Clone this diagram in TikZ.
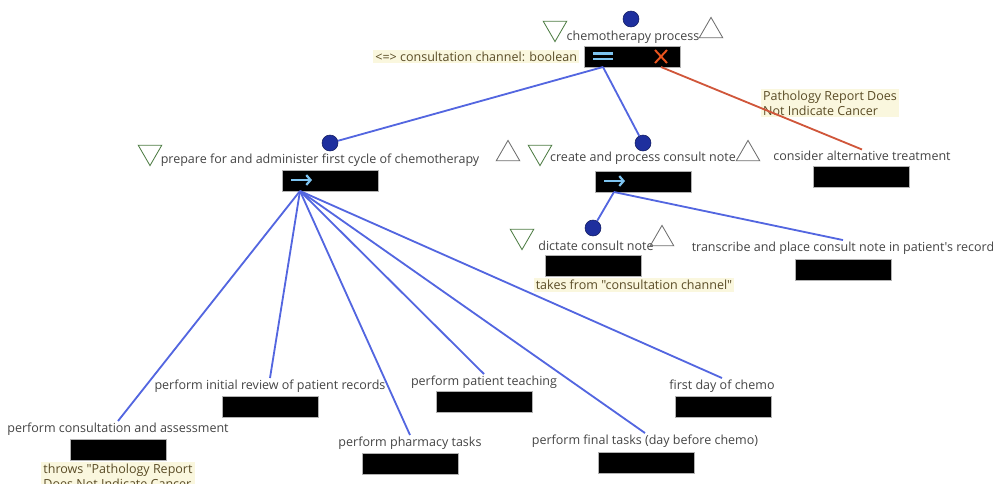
\documentclass[tikz,border=0pt]{standalone}
\usepackage{fontspec}
\setmainfont{Open Sans}[Ligatures=TeXOff]
\usepackage{xcolor}
\usetikzlibrary{arrows.meta,positioning,shapes.geometric}

\definecolor{txtgray}{HTML}{444444}
\definecolor{notetext}{HTML}{5A4C26}
\definecolor{notebg}{HTML}{FAF7DE}
\definecolor{lineblue}{HTML}{5366E0}
\definecolor{dotblue}{HTML}{1E2F9E}
\definecolor{excred}{HTML}{D0563A}
\definecolor{trigreen}{HTML}{4E7D44}
\definecolor{trigray}{HTML}{6E6E6E}
\definecolor{glyphblue}{HTML}{7EC4F0}
\definecolor{xorange}{HTML}{E8541E}

\begin{document}
\begin{tikzpicture}[
    x=0.025cm, y=-0.025cm,
    act/.style={font=\fontsize{8.9}{10.5}\selectfont, text=txtgray, inner sep=1pt},
    bar/.style={
        rectangle, fill=black, draw=gray!60,
        minimum width=2.4cm, minimum height=0.525cm, inner sep=0pt,
    },
    tok/.style={circle, fill=dotblue, draw=dotblue!60!black, minimum size=0.4cm, inner sep=0pt},
    tridown/.style={
        regular polygon, regular polygon sides=3, shape border rotate=180,
        draw=trigreen, line width=0.6pt, minimum size=0.68cm, inner sep=0pt,
    },
    triup/.style={
        regular polygon, regular polygon sides=3,
        draw=trigray, line width=0.6pt, minimum size=0.68cm, inner sep=0pt,
    },
    note/.style={
        font=\fontsize{8.9}{10.5}\selectfont, text=notetext, fill=notebg,
        inner sep=1.5pt, align=left,
    },
    link/.style={draw=lineblue, line width=1.3pt},
    exc/.style={draw=excred, line width=1.3pt},
    glyph/.style={draw=glyphblue, line width=1.6pt},
]

\useasboundingbox (0,0) rectangle (993,483);
\clip (0,0) rectangle (993,483);

% Root process
\node[tok] (rootdot) at (631,19) {};
\node[act] (root) at (633,37) {chemotherapy process};
\node[tridown] (rootdn) at (555,28) {};
\node[triup] (rootup) at (711,31) {};
\node[bar] (rootbar) at (632.5,56.5) {};
\node[note, left=0.12cm of rootbar] (chan) {<=> consultation channel: boolean};
\draw[glyph] (593,53.5) -- (613,53.5) (593,59) -- (613,59);
\draw[draw=xorange, line width=1.4pt] (655,50) -- (667,63) (667,50) -- (655,63);
\coordinate (rootseq) at (603,67);
\coordinate (rootexc) at (661,67);

% Prepare and administer
\node[tok] (prepdot) at (330,143) {};
\node[act] (prep) at (320,160) {prepare for and administer first cycle of chemotherapy};
\node[tridown] (prepdn) at (150,152) {};
\node[triup] (prepup) at (508,154) {};
\node[bar] (prepbar) at (330,180.5) {};
\draw[glyph, -{Straight Barb[length=3pt,width=7pt]}] (291,180) -- (312,180);
\coordinate (prepout) at (300,191);

% Consult note
\node[tok] (notedot) at (643,143) {};
\node[act] (cnote) at (643,158) {create and process consult note};
\node[tridown] (notedn) at (540,152) {};
\node[triup] (noteup) at (748,154) {};
\node[bar] (notebar) at (643,182) {};
\draw[glyph, -{Straight Barb[length=3pt,width=7pt]}] (604,181) -- (625,181);
\coordinate (noteout) at (614,192);

% Alternative treatment
\node[act] (alt) at (862,156) {consider alternative treatment};
\node[bar] (altbar) at (861,176.5) {};
\node[note] (patho) at (830,103) {Pathology Report Does\\Not Indicate Cancer};

% Dictate / transcribe
\node[tok] (dictdot) at (593,228) {};
\node[act] (dict) at (596,246) {dictate consult note};
\node[tridown] (dictdn) at (522,236) {};
\node[triup] (dictup) at (662,239) {};
\node[bar] (dictbar) at (593,265.5) {};
\node[note] (takes) at (634,285) {takes from "consultation channel"};
\node[act] (trans) at (843,248) {transcribe and place consult note in patient's record};
\node[bar] (transbar) at (843,269.5) {};

% Steps of the first cycle
\node[act] (review) at (270,386) {perform initial review of patient records};
\node[bar] (reviewbar) at (270,407) {};
\node[act] (consult) at (118,429) {perform consultation and assessment};
\node[bar] (consultbar) at (118,449.5) {};
\node[note] (throws) at (118,476) {throws "Pathology Report\\Does Not Indicate Cancer};
\node[act] (teach) at (484,382) {perform patient teaching};
\node[bar] (teachbar) at (484,402) {};
\node[act] (pharm) at (410,443) {perform pharmacy tasks};
\node[bar] (pharmbar) at (410,463.5) {};
\node[act] (final) at (645,441) {perform final tasks (day before chemo)};
\node[bar] (finalbar) at (646,462.5) {};
\node[act] (first) at (722,386) {first day of chemo};
\node[bar] (firstbar) at (723,406.5) {};

% Connectors
\draw[link] (rootseq) -- (prepdot);
\draw[link] (rootseq) -- (notedot);
\draw[exc] (rootexc) -- (alt.north);
\draw[link] (noteout) -- (dictdot);
\draw[link] (noteout) -- (trans.north);
\foreach \s in {consult,review,pharm,teach,final,first}
    \draw[link] (prepout) -- (\s.north);

\end{tikzpicture}
\end{document}
